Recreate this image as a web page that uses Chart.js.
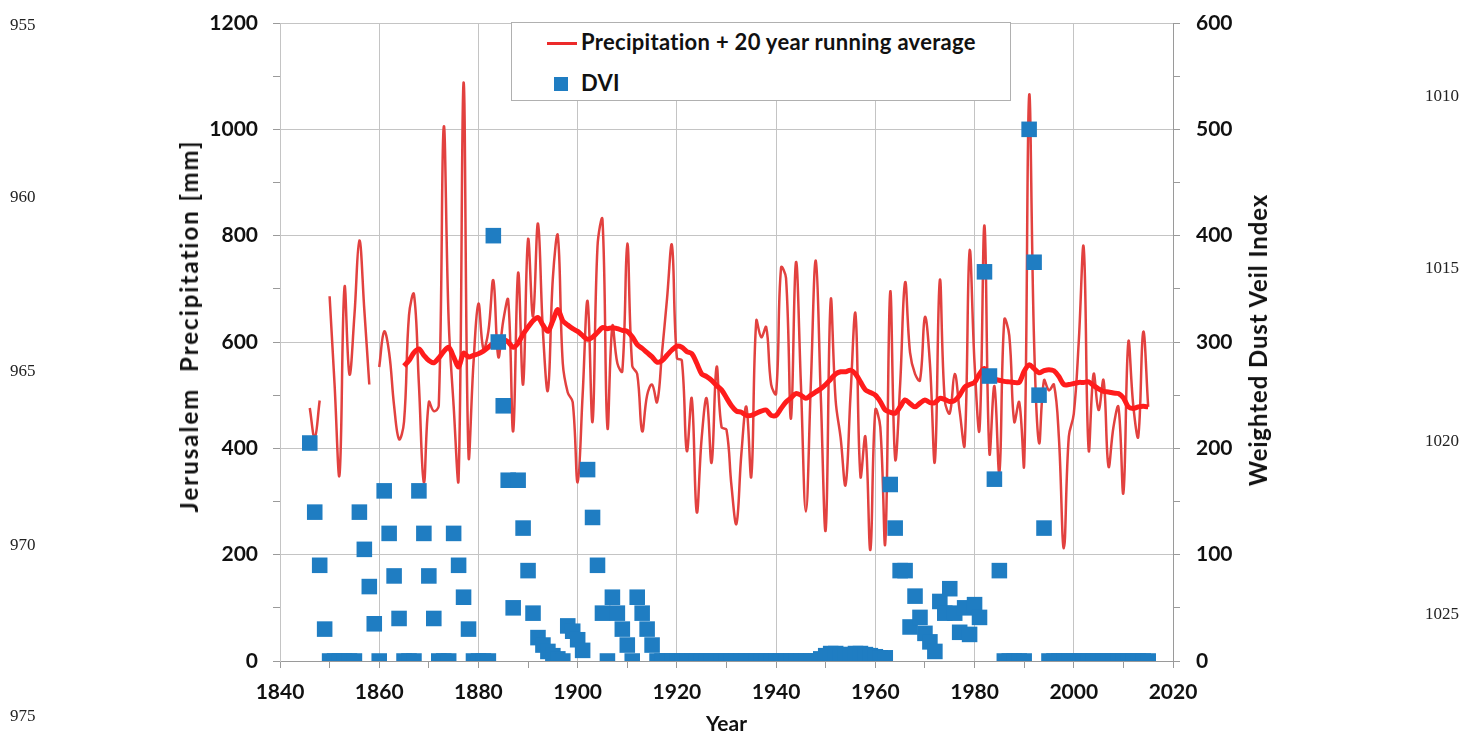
<!DOCTYPE html>
<html>
<head>
<meta charset="utf-8">
<script src="https://cdn.jsdelivr.net/npm/chart.js@4.4.1/dist/chart.umd.min.js"></script>
<style>
  body { margin: 0; background: #fff; }
  #wrap { position: relative; width: 1467px; height: 731px; overflow: hidden; }
  .ln { position: absolute; font-family: 'Liberation Serif', serif; font-size: 17px; color: #222; }
  .axt { position: absolute; font-family: Lato, sans-serif; font-weight: bold; font-size: 24px; color: #111;
    white-space: pre; transform: translate(-50%, -50%) rotate(-90deg); line-height: 1; }
  #legend { position: absolute; left: 511px; top: 22px; width: 498px; height: 77px; background: #fff;
    border: 1px solid #b0b0b0; font-family: Lato, sans-serif; font-weight: bold; font-size: 22px;
    letter-spacing: 0.3px; color: #111; }
  #legend .row { position: absolute; left: 69px; }
</style>
</head>
<body>
<div id="wrap">
  <canvas id="myChart"></canvas>
  <div id="legend">
    <div style="position:absolute;left:35px;top:19px;width:30px;height:3px;background:#ec2a2a"></div>
    <div class="row" style="top:5px">Precipitation + 20 year running average</div>
    <div style="position:absolute;left:42px;top:54px;width:14px;height:14px;background:#1f7dc2"></div>
    <div class="row" style="top:46px">DVI</div>
  </div>
  <div class="axt" style="left:189px;top:326px;letter-spacing:2px">Jerusalem  Precipitation [mm]</div>
  <div class="axt" style="left:1258px;top:340px;letter-spacing:0.9px">Weighted Dust Veil Index</div>
  <div class="ln" style="left:10px;top:15px">955</div>
  <div class="ln" style="left:10px;top:187px">960</div>
  <div class="ln" style="left:10px;top:361px">965</div>
  <div class="ln" style="left:10px;top:535px">970</div>
  <div class="ln" style="left:10px;top:706px">975</div>
  <div class="ln" style="left:1425px;top:86px">1010</div>
  <div class="ln" style="left:1425px;top:258px">1015</div>
  <div class="ln" style="left:1425px;top:431px">1020</div>
  <div class="ln" style="left:1425px;top:604px">1025</div>
</div>
<script>
'use strict';

// DATA
let firstYear = 1846;
let avgStart = 1865;

// annual precipitation, mm (null = missing year)
let precip = [
  476, 420, 490, null,
  686, 520, 350, 703, 539, 650, 791, 660, 520, null,
  553, 620, 580, 480, 417, 450, 650, 690, 520, 336,
  487, 470, 480, 1004, 640, 480, 343, 1088, 387, 560,
  672, 587, 620, 716, 572, 640, 679, 432, 730, 520,
  793, 648, 823, 620, 509, 720, 800, 560, 505, 487,
  336, 500, 677, 450, 780, 830, 439, 630, 560, 545,
  785, 555, 540, 432, 500, 520, 487, 580, 680, 782,
  570, 565, 395, 494, 280, 420, 494, 373, 553, 440,
  435, 330, 258, 390, 478, 347, 640, 609, 628, 520,
  503, 740, 720, 456, 750, 520, 281, 520, 753, 500,
  247, 678, 490, 420, 331, 500, 653, 347, 422, 209,
  472, 440, 222, 694, 380, 520, 712, 580, 540, 528,
  647, 560, 375, 716, 490, 466, 540, 470, 406, 771,
  560, 435, 819, 391, 517, 354, 642, 612, 450, 487,
  369, 1063, 600, 410, 528, 509, 520, 420, 212, 422,
  465, 600, 778, 397, 540, 472, 528, 366, 440, 478,
  316, 600, 480, 422, 619, 478
];

// 20 year running average, mm, from 1865
let runningAvg = [
  555, 565, 580, 587, 575,
  565, 561, 570, 582, 590, 572, 553, 579, 572, 575,
  578, 583, 590, 598, 606, 605, 600, 590, 598, 615,
  628, 640, 646, 632, 620, 640, 661, 640, 632, 625,
  620, 612, 605, 609, 618, 627, 625, 627, 625, 622,
  620, 610, 595, 588, 580, 572, 562, 565, 575, 585,
  592, 590, 582, 578, 560, 540, 535, 528, 518, 510,
  495, 480, 470, 468, 462, 462, 466, 470, 472, 462,
  462, 475, 487, 495, 503, 500, 494, 500, 506, 512,
  520, 530, 540, 544, 544, 547, 540, 525, 510, 505,
  500, 488, 472, 468, 466, 478, 491, 484, 478, 485,
  491, 486, 486, 494, 492, 488, 490, 500, 515, 520,
  524, 540, 550, 533, 530, 528, 526, 525, 524, 524,
  545, 557, 550, 542, 546, 548, 546, 535, 520, 520,
  522, 524, 524, 525, 518, 512, 507, 506, 504, 503,
  495, 478, 475, 478, 479, 478
];

// weighted dust veil index, from 1846
let dvi = [
  205, 140, 90, 30,
  0, 0, 0, 0, 0, 0, 140, 105, 70, 35,
  0, 160, 120, 80, 40, 0, 0, 0, 160, 120,
  80, 40, 0, 0, 0, 120, 90, 60, 30, 0,
  0, 0, 0, 400, 300, 240, 170, 50, 170, 125,
  85, 45, 22, 15, 9, 5, 2, 0, 33, 28,
  20, 10, 180, 135, 90, 45, 0, 60, 45, 30,
  15, 0, 60, 45, 30, 15, 0, 0, 0, 0,
  0, 0, 0, 0, 0, 0, 0, 0, 0, 0,
  0, 0, 0, 0, 0, 0, 0, 0, 0, 0,
  0, 0, 0, 0, 0, 0, 0, 0, 0, 2,
  5, 7, 7, 6, 5, 6, 7, 7, 6, 5,
  4, 3, 3, 166, 125, 85, 85, 32, 61, 41,
  26, 18, 9, 56, 45, 68, 45, 27, 50, 25,
  53, 41, 366, 268, 171, 85, 0, 0, 0, 0,
  0, 500, 375, 250, 125, 0, 0, 0, 0, 0,
  0, 0, 0, 0, 0, 0, 0, 0, 0, 0,
  0, 0, 0, 0, 0, 0
];

let xTicks = [1840, 1860, 1880, 1900, 1920, 1940, 1960, 1980, 2000, 2020];

function toPoints(values, start) {
  let pts = [];
  for (let i = 0; i < values.length; i++) {
    pts.push({ x: start + i, y: values[i] });
  }
  return pts;
}

// let the end labels of the value axes overhang the plot
function fixWidth(w) {
  return function (s) {
    s.width = w;
    s.paddingTop = 0;
    s.paddingBottom = 0;
  };
}

const font = { family: 'Lato, sans-serif', weight: 'bold', size: 21 };
const gridGray = '#c4c4c4';

const data = {
  datasets: [
    {
      label: 'DVI',
      type: 'scatter',
      data: toPoints(dvi, firstYear),
      yAxisID: 'y2',
      backgroundColor: '#1f7dc2',
      borderWidth: 0,
      pointStyle: 'rect',
      pointRadius: 11,
      order: 0
    },
    {
      label: 'Running average',
      type: 'line',
      data: toPoints(runningAvg, avgStart),
      yAxisID: 'y',
      borderColor: '#ff1c1c',
      borderWidth: 5,
      pointRadius: 0,
      tension: 0.3,
      order: 1
    },
    {
      label: 'Precipitation',
      type: 'line',
      data: toPoints(precip, firstYear),
      yAxisID: 'y',
      borderColor: '#e2413f',
      borderWidth: 2.5,
      pointRadius: 0,
      tension: 0.4,
      spanGaps: false,
      order: 2
    }
  ]
};

const config = {
  type: 'line',
  data: data,
  options: {
    responsive: true,
    maintainAspectRatio: false,
    animation: false,
    layout: { padding: { left: 170, right: 194, top: 23, bottom: 0 } },
    plugins: { legend: { display: false }, tooltip: { enabled: false } },
    scales: {
      x: {
        type: 'linear',
        min: 1840,
        max: 2020,
        afterFit: s => { s.height = 70; },
        afterBuildTicks: s => { s.ticks = []; for (let v = 1840; v <= 2020; v += 10) s.ticks.push({ value: v }); },
        ticks: {
          color: '#111',
          font: font,
          padding: 12,
          maxRotation: 0,
          autoSkip: false,
          callback: v => xTicks.includes(v) ? String(v) : ''
        },
        grid: {
          color: c => (c.tick && c.tick.value % 20 === 0) ? gridGray : 'transparent',
          tickColor: '#9a9a9a',
          tickLength: 7
        },
        border: { color: '#9a9a9a' },
        title: { display: true, text: 'Year', color: '#111', font: { family: 'Lato, sans-serif', weight: 'bold', size: 21, lineHeight: 0.6 }, padding: 0 }
      },
      y: {
        position: 'left',
        min: 0,
        max: 1200,
        afterFit: fixWidth(110),
        ticks: {
          stepSize: 100,
          color: '#111',
          font: font,
          padding: 15,
          callback: v => v % 200 === 0 ? String(v) : ''
        },
        grid: {
          color: c => (c.tick && c.tick.value % 200 === 0) ? gridGray : 'transparent',
          tickColor: '#9a9a9a',
          tickLength: 7
        },
        border: { color: gridGray }
      },
      y2: {
        position: 'right',
        min: 0,
        max: 600,
        afterFit: fixWidth(100),
        ticks: {
          stepSize: 50,
          color: '#111',
          font: font,
          padding: 16,
          callback: v => v % 100 === 0 ? String(v) : ''
        },
        grid: { drawOnChartArea: false, tickColor: '#9a9a9a', tickLength: 7 },
        border: { color: '#9a9a9a' }
      }
    }
  }
};

const myChart = new Chart(document.getElementById('myChart'), config);
</script>
</body>
</html>
